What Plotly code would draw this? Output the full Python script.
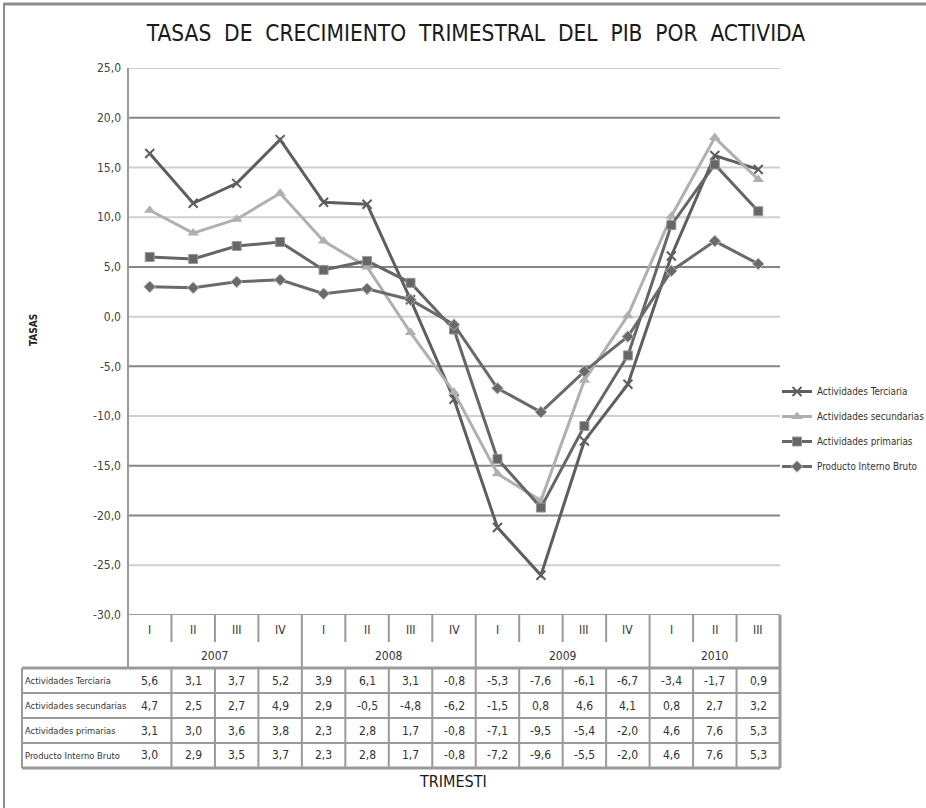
import plotly.graph_objects as go

# ---------------- data ----------------
quarters = ["I", "II", "III", "IV", "I", "II", "III", "IV",
            "I", "II", "III", "IV", "I", "II", "III"]
years = ["2007", "2008", "2009", "2010"]
year_counts = [4, 4, 4, 3]

series_names = ["Actividades Terciaria", "Actividades secundarias",
                "Actividades primarias", "Producto Interno Bruto"]

# values drawn as lines
terciaria = [16.4, 11.4, 13.4, 17.8, 11.5, 11.3, 1.7, -8.3, -21.2, -26.0, -12.5, -6.8, 6.1, 16.2, 14.8]
secundarias = [10.7, 8.4, 9.8, 12.4, 7.6, 5.0, -1.6, -7.6, -15.8, -18.5, -6.4, 0.1, 10.1, 18.0, 13.8]
primarias = [6.0, 5.8, 7.1, 7.5, 4.7, 5.6, 3.4, -1.3, -14.3, -19.2, -11.0, -3.9, 9.2, 15.3, 10.6]
pib = [3.0, 2.9, 3.5, 3.7, 2.3, 2.8, 1.7, -0.8, -7.2, -9.6, -5.5, -2.0, 4.6, 7.6, 5.3]

# values printed in the data table
tab_terciaria = [5.6, 3.1, 3.7, 5.2, 3.9, 6.1, 3.1, -0.8, -5.3, -7.6, -6.1, -6.7, -3.4, -1.7, 0.9]
tab_secundarias = [4.7, 2.5, 2.7, 4.9, 2.9, -0.5, -4.8, -6.2, -1.5, 0.8, 4.6, 4.1, 0.8, 2.7, 3.2]
tab_primarias = [3.1, 3.0, 3.6, 3.8, 2.3, 2.8, 1.7, -0.8, -7.1, -9.5, -5.4, -2.0, 4.6, 7.6, 5.3]
tab_pib = [3.0, 2.9, 3.5, 3.7, 2.3, 2.8, 1.7, -0.8, -7.2, -9.6, -5.5, -2.0, 4.6, 7.6, 5.3]

y_ticks = [25, 20, 15, 10, 5, 0, -5, -10, -15, -20, -25, -30]

title_text = "TASAS  DE  CRECIMIENTO  TRIMESTRAL  DEL  PIB  POR  ACTIVIDA"
y_title = "TASAS"
x_title = "TRIMESTI"

# ---------------- layout geometry ----------------
W, H = 926, 808
L, R, T, B = 128, 780, 68, 615
PW, PH = R - L, B - T
N = len(quarters)
FONT = "Liberation Sans Narrow, DejaVu Sans Condensed, Liberation Sans, sans-serif"


def X(px):
    return (px - L) / PW


def Y(py):
    return (B - py) / PH


def colx(i):
    return (i + 0.5) / N


def fmt(v):
    return f"{v:.1f}".replace(".", ",")


fig = go.Figure()
xs = list(range(N))

styles = [
    dict(color="#5e5e5e", symbol="x-thin", size=9, mline=2, mcolor="#5e5e5e"),
    dict(color="#b0b0b0", symbol="triangle-up", size=10, mline=0, mcolor="#b0b0b0"),
    dict(color="#666666", symbol="square", size=9, mline=1, mcolor="#999999"),
    dict(color="#6a6a6a", symbol="diamond", size=9, mline=1, mcolor="#bbbbbb"),
]
for k, (name, vals) in enumerate(zip(series_names, [terciaria, secundarias, primarias, pib])):
    s = styles[k]
    fig.add_trace(go.Scatter(
        x=xs, y=vals, name=name, mode="lines+markers",
        legendgroup=f"g{k}",
        line=dict(color=s["color"], width=3),
        marker=dict(symbol=s["symbol"], size=s["size"], color=s["color"],
                    line=dict(width=s["mline"], color=s["mcolor"])),
    ))

shapes = []
grid_tone = {25: "#cfcfcf", 20: "#858585", 15: "#cfcfcf", 10: "#cfcfcf", 5: "#858585",
             0: "#cfcfcf", -5: "#858585", -10: "#cfcfcf", -15: "#858585",
             -20: "#858585", -25: "#cfcfcf", -30: "#9a9a9a"}
for v in y_ticks:
    shapes.append(dict(type="line", xref="paper", yref="y", x0=0, x1=1, y0=v, y1=v,
                       line=dict(color=grid_tone[v], width=2), layer="below"))
shapes.append(dict(type="line", xref="paper", yref="paper", x0=0, x1=0, y0=Y(668), y1=1,
                   line=dict(color="#9a9a9a", width=2)))

# ---------------- table ----------------
tcol = "#9a9a9a"
rows_top = [668, 693, 718, 743]
row_bottom = 768
for py in rows_top + [row_bottom]:
    w = 3 if py in (668, 768) else 2
    shapes.append(dict(type="line", xref="paper", yref="paper", x0=X(22), x1=X(780),
                       y0=Y(py), y1=Y(py), line=dict(color=tcol, width=w)))
shapes.append(dict(type="line", xref="paper", yref="paper", x0=X(22), x1=X(22),
                   y0=Y(668), y1=Y(768), line=dict(color=tcol, width=2)))
shapes.append(dict(type="line", xref="paper", yref="paper", x0=1, x1=1,
                   y0=Y(615), y1=Y(768), line=dict(color=tcol, width=3)))
year_bounds = set()
acc = 0
for c in year_counts:
    acc += c
    year_bounds.add(acc)
for k in range(1, N):
    xk = k / N
    if k in year_bounds:
        shapes.append(dict(type="line", xref="paper", yref="paper", x0=xk, x1=xk,
                           y0=Y(615), y1=Y(768), line=dict(color=tcol, width=2)))
    else:
        shapes.append(dict(type="line", xref="paper", yref="paper", x0=xk, x1=xk,
                           y0=Y(615), y1=Y(642), line=dict(color=tcol, width=2)))
        shapes.append(dict(type="line", xref="paper", yref="paper", x0=xk, x1=xk,
                           y0=Y(668), y1=Y(768), line=dict(color=tcol, width=2)))

# outer frame of the picture
shapes.append(dict(type="line", xref="paper", yref="paper", x0=X(4), x1=X(4),
                   y0=Y(3), y1=Y(808), line=dict(color="#8c8c8c", width=2)))
shapes.append(dict(type="line", xref="paper", yref="paper", x0=X(4), x1=X(926),
                   y0=Y(4), y1=Y(4), line=dict(color="#8c8c8c", width=3)))

annotations = []
tfont = dict(family=FONT, size=12, color="#333333")
for i, q in enumerate(quarters):
    annotations.append(dict(x=colx(i), y=Y(630), xref="paper", yref="paper", text=q,
                            showarrow=False, font=tfont, xanchor="center", yanchor="middle"))
start = 0
for yr, c in zip(years, year_counts):
    annotations.append(dict(x=(start + c / 2) / N, y=Y(656), xref="paper", yref="paper",
                            text=yr, showarrow=False, font=tfont,
                            xanchor="center", yanchor="middle"))
    start += c

for r, (name, vals) in enumerate(zip(series_names,
                                     [tab_terciaria, tab_secundarias, tab_primarias, tab_pib])):
    yc = Y(rows_top[r] + 12.5)
    annotations.append(dict(x=X(23), y=yc, xref="paper", yref="paper", text=name,
                            showarrow=False, align="left",
                            font=dict(family=FONT, size=9.3, color="#333333"),
                            xanchor="left", yanchor="middle"))
    for i, v in enumerate(vals):
        annotations.append(dict(x=colx(i), y=yc, xref="paper", yref="paper", text=fmt(v),
                                showarrow=False, font=tfont,
                                xanchor="center", yanchor="middle"))

annotations.append(dict(x=X(453), y=Y(781), xref="paper", yref="paper", text=x_title,
                        showarrow=False, font=dict(family=FONT, size=16, color="#1a1a1a"),
                        xanchor="center", yanchor="middle"))
annotations.append(dict(x=X(33), y=Y(330), xref="paper", yref="paper",
                        text=f"<b>{y_title}</b>", textangle=-90, showarrow=False,
                        font=dict(family=FONT, size=10, color="#222222"),
                        xanchor="center", yanchor="middle"))

fig.update_layout(
    width=W, height=H,
    margin=dict(l=L, r=W - R, t=T, b=H - B, autoexpand=False),
    paper_bgcolor="white", plot_bgcolor="white",
    title=dict(text=title_text, x=476 / W, xanchor="center", y=1 - 33 / H, yanchor="middle",
               yref="container", font=dict(family=FONT, size=22.5, color="#1a1a1a")),
    xaxis=dict(range=[-0.5, N - 0.5], showgrid=False, zeroline=False, showticklabels=False,
               showline=False, ticks=""),
    yaxis=dict(range=[-30, 25], tickvals=y_ticks, ticktext=[fmt(v) for v in y_ticks],
               showgrid=False, zeroline=False, showline=False, ticks="", ticklabelstandoff=6,
               tickfont=dict(family=FONT, size=12, color="#444444")),
    legend=dict(x=X(777), y=Y(429), xanchor="left", yanchor="middle",
                font=dict(family=FONT, size=9.8, color="#333333"),
                tracegroupgap=6, itemwidth=30, bgcolor="rgba(0,0,0,0)"),
    shapes=shapes,
    annotations=annotations,
    showlegend=True,
)

fig.write_html("out.html", config={"displayModeBar": False},
               post_script="document.body.style.margin='0';document.body.style.overflow='hidden';")
